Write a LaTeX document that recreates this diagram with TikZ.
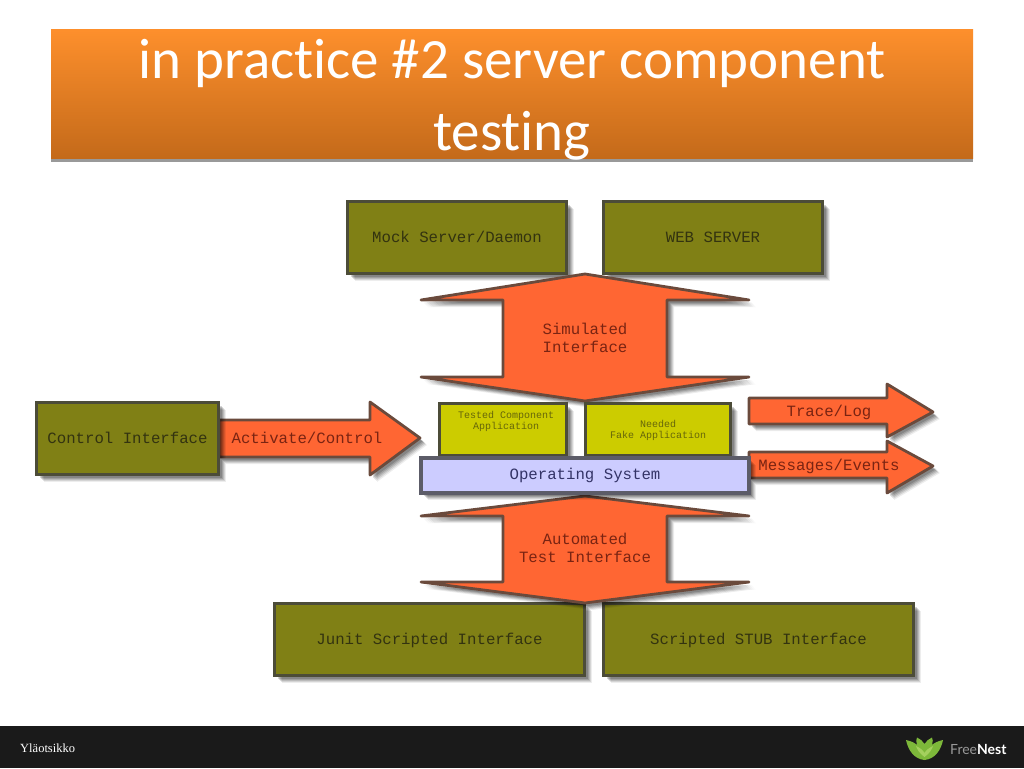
\documentclass[tikz,border=0pt]{standalone}
\usepackage{fontspec}
\setmainfont[Ligatures=NoCommon]{Carlito}
\newfontfamily\cour{Liberation Mono}
\newfontfamily\lat{Lato}
\newfontfamily\foot{Liberation Serif}
\usetikzlibrary{calc}
\definecolor{olivebox}{HTML}{808015}
\definecolor{olivetext}{HTML}{333310}
\definecolor{olivedge}{HTML}{4C4C38}
\definecolor{yellowbox}{HTML}{CCCC00}
\definecolor{yellowtext}{HTML}{66660A}
\definecolor{osfill}{HTML}{CCCCFF}
\definecolor{osedge}{HTML}{5C5C68}
\definecolor{ostext}{HTML}{333366}
\definecolor{arrowfill}{HTML}{FF6633}
\definecolor{arrowedge}{HTML}{6A4A3C}
\definecolor{arrowtext}{HTML}{7A2412}
\definecolor{bartop}{HTML}{FD8F2C}
\definecolor{barbot}{HTML}{C46A1A}
\definecolor{footbg}{HTML}{1A1A1A}
\definecolor{leafg}{HTML}{7DB83A}
\definecolor{leafl}{HTML}{A4D05E}
\tikzset{
  softshadow/.style={
    preaction={fill=black,opacity=.07,transform canvas={shift={(7pt,-7pt)}}},
    preaction={fill=black,opacity=.10,transform canvas={shift={(6pt,-6pt)}}},
    preaction={fill=black,opacity=.12,transform canvas={shift={(5pt,-5pt)}}},
    preaction={fill=black,opacity=.14,transform canvas={shift={(4pt,-4pt)}}},
    preaction={fill=black,opacity=.16,transform canvas={shift={(3pt,-3pt)}}}},
  bigtext/.style={font=\cour\fontsize{15.7}{18}\selectfont,align=center,inner sep=0pt},
  smalltext/.style={font=\cour\fontsize{10}{11}\selectfont,align=center,inner sep=0pt},
  olive/.style={softshadow,draw=olivedge,line width=2.8pt,fill=olivebox,text=olivetext,bigtext,text height=11pt,text depth=2pt,minimum height=72pt,line join=miter},
  app/.style={softshadow,draw=olivedge,line width=2.8pt,fill=yellowbox,minimum height=52pt},
  oslayer/.style={softshadow,draw=osedge,line width=3.2pt,fill=osfill,text=ostext,bigtext},
  bigarrow/.style={softshadow,draw=arrowedge,line width=2.8pt,fill=arrowfill,line join=round},
  arrowlabel/.style={bigtext,text=arrowtext},
  applabel/.style={smalltext,text=yellowtext}
}
\begin{document}
\begin{tikzpicture}[x=1pt,y=-1pt]
\useasboundingbox (0,0) rectangle (1024,768);
\fill[white] (0,0) rectangle (1024,768);
% title bar
\fill[black!40] (51,40) rectangle (973,161.5);
\shade[top color=bartop,bottom color=barbot] (51,30) rectangle (973,158);
\node[font=\fontsize{57}{72}\selectfont,text=white,align=center,inner sep=0pt,anchor=center] (title) at (512,99.5) {in practice \#2 server component\\testing};
% footer
\fill[footbg] (0,726) rectangle (1024,768);
\node[font=\foot\fontsize{12.5}{14}\selectfont,text=white,anchor=west,inner sep=0pt] (foottext) at (20,748) {Yläotsikko};
\node[font=\lat\fontsize{14}{16}\selectfont,text=black!40,anchor=west,inner sep=0pt] (brand) at (950,749.5) {Free\textcolor{white}{\bfseries Nest}};
% logo
\fill[leafg] (924.5,760) .. controls (914,759) and (908,750) .. (906,740) .. controls (911,741) and (915,743) .. (917,745) .. controls (916,742) and (916,739) .. (917,737.5) .. controls (920,739) and (923,741) .. (924.5,744) .. controls (926,741) and (929,739) .. (932,737.5) .. controls (933,739) and (933,742) .. (932,745) .. controls (934,743) and (938,741) .. (943,740) .. controls (941,750) and (935,759) .. (924.5,760) -- cycle;
\fill[leafl] (924.5,757) .. controls (919,753) and (917,749) .. (916,746) .. controls (920,748) and (923,750) .. (924.5,753) .. controls (926,750) and (929,748) .. (933,746) .. controls (932,749) and (930,753) .. (924.5,757) -- cycle;
% boxes
\node[olive,minimum width=219pt] (mock) at (457,237.5) {Mock Server/Daemon};
\node[olive,minimum width=219pt] (web) at (713,237.5) {WEB SERVER};
\node[olive,minimum width=310pt] (junit) at (429.5,639.5) {Junit Scripted Interface};
\node[olive,minimum width=310pt] (stub) at (758.5,639.5) {Scripted STUB Interface};
% simulated interface arrow
\draw[bigarrow] (585,274) -- (749,300) -- (667,300) -- (667,377) -- (749,377) -- (585,401) -- (421,377) -- (503,377) -- (503,300) -- (421,300) -- cycle;
\node[arrowlabel] (simlabel) at (585,338) {Simulated\\Interface};
% activate arrow
\draw[bigarrow] (219,420) -- (370,420) -- (370,402) -- (420,438) -- (370,475) -- (370,457) -- (219,457) -- cycle;
\node[arrowlabel] (actlabel) at (307,438) {Activate/Control};
\node[olive,minimum width=182pt] (control) at (127.5,438.5) {Control Interface};
% output arrows
\draw[bigarrow] (749,398) -- (887,398) -- (887,384) -- (933,412) -- (887,437) -- (887,424) -- (749,424) -- cycle;
\node[arrowlabel] (tracelabel) at (829,412) {Trace/Log};
\draw[bigarrow] (749,452) -- (887,452) -- (887,441) -- (933,466) -- (887,493) -- (887,478) -- (749,478) -- cycle;
\node[arrowlabel] (msglabel) at (829,466) {Messages/Events};
% automated arrow
\draw[bigarrow] (585,496) -- (749,516) -- (667,516) -- (667,582) -- (749,582) -- (585,603) -- (421,582) -- (503,582) -- (503,516) -- (421,516) -- cycle;
\node[arrowlabel] (autolabel) at (585,548) {Automated\\Test Interface};
% application boxes
\node[app,minimum width=127pt] (tested) at (503,429.5) {};
\node[applabel] (testedlabel) at (506,421.5) {Tested Component\\Application};
\node[app,minimum width=145pt] (fake) at (658,429.5) {};
\node[applabel] (fakelabel) at (658,430.5) {Needed\\Fake Application};
% operating system
\node[oslayer,minimum width=328pt,minimum height=35pt] (os) at (585,475.5) {Operating System};
\end{tikzpicture}
\end{document}
